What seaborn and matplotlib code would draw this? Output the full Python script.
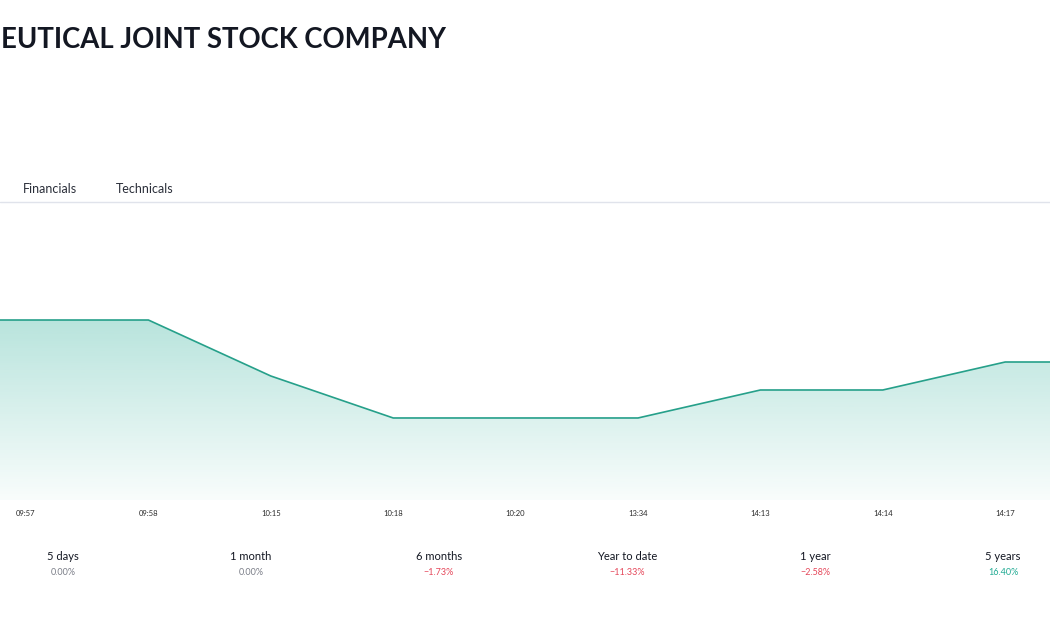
import numpy as np
import pandas as pd
import matplotlib
matplotlib.use("Agg")
import matplotlib.pyplot as plt
import seaborn as sns
from matplotlib.lines import Line2D
from matplotlib.colors import to_rgb

# intraday price line (visible ticks), plus the flat edges that run off the page
times = ["09:57", "09:58", "10:15", "10:18", "10:20", "13:34", "14:13", "14:14", "14:17"]
prices = [33.0, 33.0, 32.6, 32.3, 32.3, 32.3, 32.5, 32.5, 32.7]
price_before = 33.0
price_after = 32.7

# performance strip under the chart
periods = ["5 days", "1 month", "6 months", "Year to date", "1 year", "5 years"]
changes = [0.00, 0.00, -1.73, -11.33, -2.58, 16.40]

tabs = ["Financials", "Technicals"]
company = "EUTICAL JOINT STOCK COMPANY"

LINE = "#26a08a"
UP = "#22ab94"
DOWN = "#e5475a"
FLAT = "#7b7e88"

W, H = 1050, 630

sns.set_theme(style="white")
plt.rcParams['font.family'] = ['Lato', 'DejaVu Sans']

fig = plt.figure(figsize=(W / 100, H / 100), dpi=100)
fig.patch.set_facecolor("white")

# header
fig.text(1 / W, 1 - 48 / H, company, ha='left', va='baseline',
         fontsize=19.8, fontweight='bold', color='#131722')
for x, t in zip([23, 116], tabs):
    fig.text(x / W, 1 - 193 / H, t, ha='left', va='baseline', fontsize=9, color='#2a2e39')
fig.add_artist(Line2D([0, 1], [1 - 202 / H, 1 - 202 / H], transform=fig.transFigure,
                      color='#e0e3eb', lw=1))

# chart area
ax = fig.add_axes([0, (H - 500) / H, 1, (500 - 210) / H])
df = pd.DataFrame({
    'pos': np.arange(-1, len(times) + 1),
    'price': [price_before] + prices + [price_after],
})

step = 122.4
x0, x1 = -26 / step, (W - 26) / step
y0, y1 = 31.714, 33.786

# gradient fill under the line
grad = np.zeros((256, 1, 4))
grad[..., :3] = to_rgb(UP)
grad[:, 0, 3] = np.linspace(0.32, 0.03, 256)
im = ax.imshow(grad, extent=[df.pos.min(), df.pos.max(), y0, max(prices)],
               aspect='auto', origin='upper', zorder=1, interpolation='bilinear')
poly = ax.fill_between(df.pos, df.price, y0, color='none', lw=0)
im.set_clip_path(poly.get_paths()[0], transform=ax.transData)

sns.lineplot(data=df, x='pos', y='price', color=LINE, lw=1.2, ax=ax, zorder=3)

ax.set_xlim(x0, x1)
ax.set_ylim(y0, y1)
ax.set_xticks(range(len(times)))
ax.set_xticklabels(times, fontsize=5.5, color='#2a2a2a')
ax.tick_params(axis='x', length=0, pad=7)
ax.set_yticks([])
ax.set_xlabel('')
ax.set_ylabel('')
sns.despine(ax=ax, left=True, bottom=True)

# period performance
for i, (p, c) in enumerate(zip(periods, changes)):
    x = (63 + 188 * i) / W
    fig.text(x, 1 - 560 / H, p, ha='center', va='baseline', fontsize=8, color='#131722')
    if c > 0:
        col = UP
    elif c < 0:
        col = DOWN
    else:
        col = FLAT
    txt = f"{c:.2f}%".replace("-", "\u2212")
    fig.text(x, 1 - 575 / H, txt, ha='center', va='baseline', fontsize=6.5, color=col)

fig.savefig("out.png", dpi=100, facecolor="white")
